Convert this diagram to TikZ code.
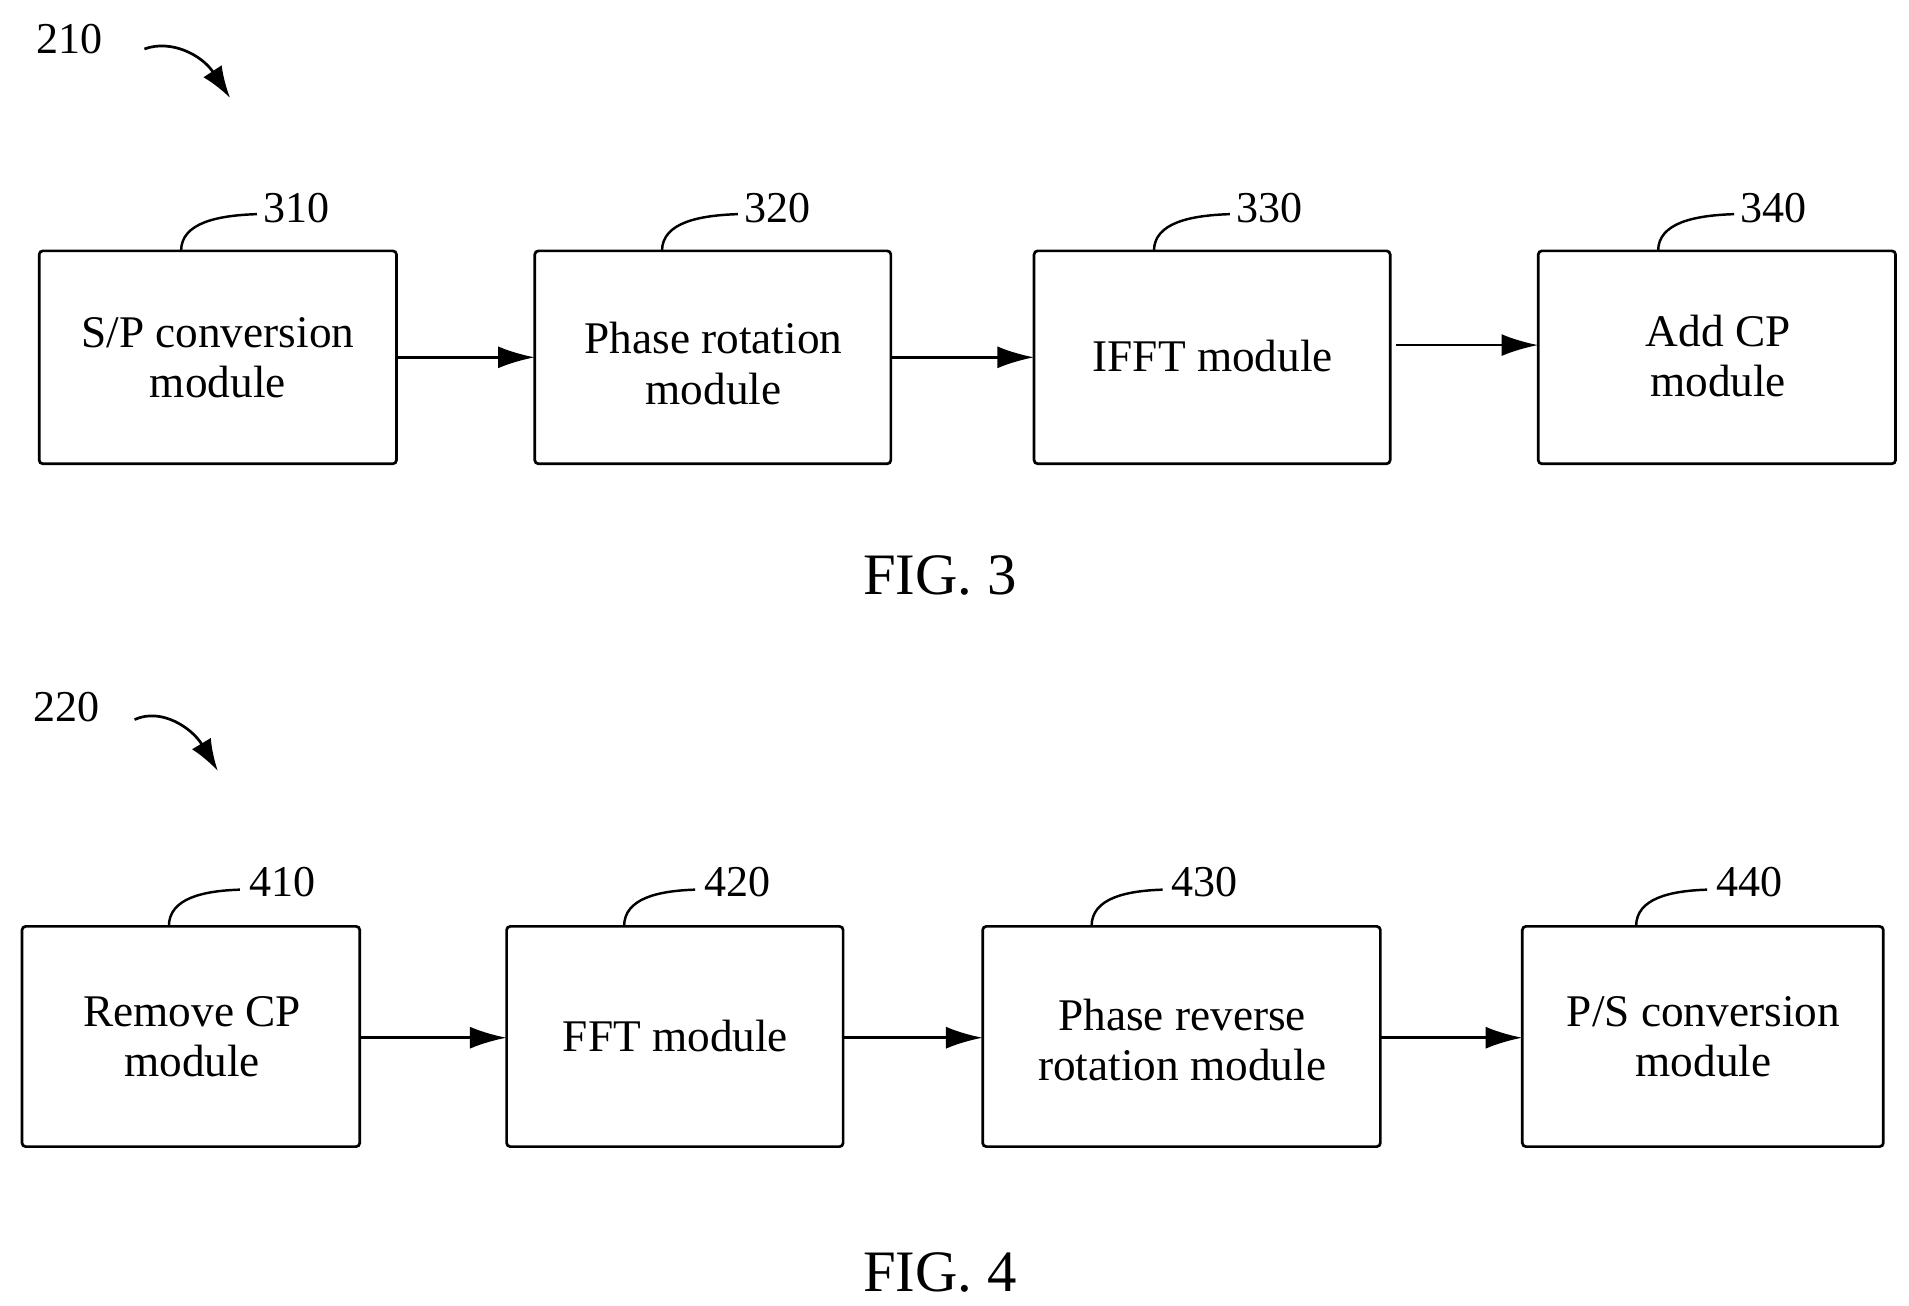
\documentclass[tikz,border=0pt]{standalone}
\usepackage{fontspec}
\setmainfont{Liberation Serif}
\usetikzlibrary{arrows.meta}
\begin{document}
\begin{tikzpicture}[x=1pt,y=-1pt,
  box/.style={draw,line width=2.2pt,rounded corners=3pt},
  txt/.style={font=\fontsize{37}{41}\selectfont,align=center},
  num/.style={font=\fontsize{36}{40}\selectfont},
  fig/.style={font=\fontsize{48}{52}\selectfont},
  arr/.style={line width=2.2pt,-{Latex[length=30pt,width=18pt]}},
  lead/.style={line width=2pt}]
\useasboundingbox (0,0) rectangle (1560,1067);
% FIG 3
\draw[box] (32,205) rectangle (324,379) coordinate (b1e);
\node[txt] (b1) at (178,292) {S/P conversion\\module};
\draw[box] (437,205) rectangle (728,379);
\node[txt] (b2) at (583,297) {Phase rotation\\module};
\draw[box] (845,205) rectangle (1136,379);
\node[txt] (b3) at (991,291) {IFFT module};
\draw[box] (1257,205) rectangle (1549,379);
\node[txt] (b4) at (1404,291) {Add CP\\module};
\coordinate (a1s) at (324,292); \coordinate (a1e) at (437,292);
\coordinate (a2s) at (728,292); \coordinate (a2e) at (845,292);
\coordinate (a3s) at (1141,282); \coordinate (a3e) at (1257,282);
\draw[arr] (a1s)--(a1e); \draw[arr] (a2s)--(a2e); \draw[arr] (a3s)--(a3e);
\foreach \x/\n in {148/310,541/320,943/330,1355/340}{
  \draw[lead] (\x,205) .. controls (\x,182) and (\x+30,176) .. (\x+62,175);
  \node[num,anchor=west] at (\x+64,170) {\n};}
\node[fig] (f3) at (768,470) {FIG. 3};
\node[num] (n210) at (57,32) {210};
\coordinate (p1) at (118,40); \coordinate (p2) at (188,80);
\draw[arr,-{Latex[length=26pt,width=18pt]}] (p1) .. controls (140,32) and (165,45) .. (p2);
% FIG 4
\draw[box] (18,757) rectangle (294,937);
\node[txt] (c1) at (157,847) {Remove CP\\module};
\draw[box] (414,757) rectangle (689,937);
\node[txt] (c2) at (552,847) {FFT module};
\draw[box] (803,757) rectangle (1128,937);
\node[txt] (c3) at (966,850) {Phase reverse\\rotation module};
\draw[box] (1244,757) rectangle (1539,937);
\node[txt] (c4) at (1392,847) {P/S conversion\\module};
\coordinate (d1s) at (294,848); \coordinate (d1e) at (414,848);
\coordinate (d2s) at (689,848); \coordinate (d2e) at (803,848);
\coordinate (d3s) at (1128,848); \coordinate (d3e) at (1244,848);
\draw[arr] (d1s)--(d1e); \draw[arr] (d2s)--(d2e); \draw[arr] (d3s)--(d3e);
\foreach \x/\n in {138/410,510/420,892/430,1337/440}{
  \draw[lead] (\x,757) .. controls (\x,734) and (\x+28,728) .. (\x+58,727);
  \node[num,anchor=west] at (\x+62,721) {\n};}
\node[fig] (f4) at (768,1040) {FIG. 4};
\node[num] (n220) at (54,578) {220};
\coordinate (q1) at (110,588); \coordinate (q2) at (178,630);
\draw[arr,-{Latex[length=26pt,width=18pt]}] (q1) .. controls (132,578) and (157,595) .. (q2);
\end{tikzpicture}
\end{document}
